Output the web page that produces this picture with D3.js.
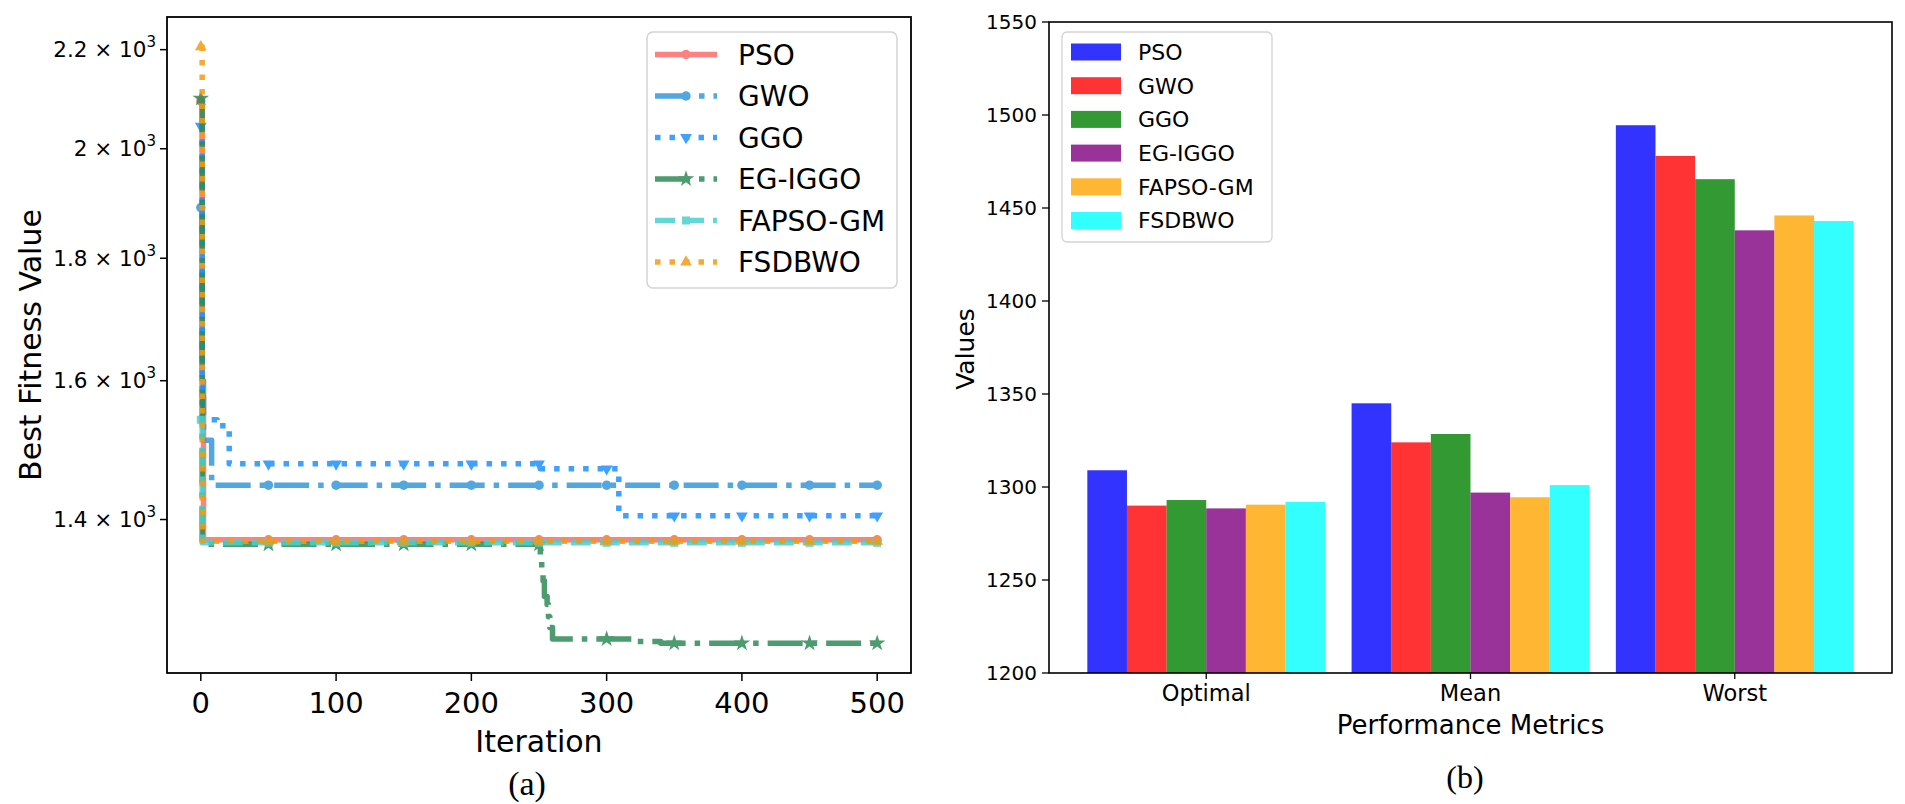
<!DOCTYPE html>
<html>
<head>
<meta charset="utf-8">
<script src="https://cdn.jsdelivr.net/npm/d3@7"></script>
<style>
  html, body { margin: 0; padding: 0; background: #fff; }
  svg { display: block; font-family: "DejaVu Sans", sans-serif; }
</style>
</head>
<body>
<svg width="1905" height="804"></svg>
<script>
// ---- (a) convergence: iteration where the best value changes, and the new value
const algorithms = ["PSO", "GWO", "GGO", "EG-IGGO", "FAPSO-GM", "FSDBWO"];
const maxIter = 500;
const psoIter = [0, 1, 2];
const psoBest = [2094, 1575, 1373];
const gwoIter = [0, 1, 2, 8];
const gwoBest = [1890, 1600, 1511, 1447];
const ggoIter = [0, 1, 12, 21, 251, 309];
const ggoBest = [2044, 1541, 1532, 1477, 1470, 1405];
const egIter = [0, 1, 3, 251, 252, 253, 254, 256, 257, 258, 260, 320, 340];
const egBest = [2099, 1372, 1367, 1345, 1335, 1320, 1300, 1290, 1275, 1262, 1248, 1245, 1243];
const fapsoIter = [0, 1];
const fapsoBest = [1541, 1369];
const fsdIter = [0, 1];
const fsdBest = [2206, 1371];
const iterTicks = [0, 100, 200, 300, 400, 500];
const fitnessTicks = [1400, 1600, 1800, 2000, 2200];
const fitnessTickLabels = ["1.4", "1.6", "1.8", "2", "2.2"];

// ---- (b) performance metrics
const metrics = ["Optimal", "Mean", "Worst"];
const psoMetrics = [1309, 1345, 1494.5];
const gwoMetrics = [1290, 1324, 1478];
const ggoMetrics = [1293, 1328.5, 1465.5];
const egMetrics = [1288.5, 1297, 1438];
const fapsoMetrics = [1290.5, 1294.5, 1446];
const fsdMetrics = [1292, 1301, 1443];
const valueTicks = [1200, 1250, 1300, 1350, 1400, 1450, 1500, 1550];

const svg = d3.select("svg");

// =================== left panel ===================
const curves = [
  { iters: psoIter, vals: psoBest, color: "#ff6b6b", dash: null, marker: "circle" },
  { iters: gwoIter, vals: gwoBest, color: "#3498db", dash: "35,9,5.5,9", marker: "circle" },
  { iters: ggoIter, vals: ggoBest, color: "#1e90ff", dash: "5.5,9", marker: "tri-down" },
  { iters: egIter, vals: egBest, color: "#2e8b57", dash: "35,9,5.5,9", marker: "star" },
  { iters: fapsoIter, vals: fapsoBest, color: "#48d1cc", dash: "20,9", marker: "square" },
  { iters: fsdIter, vals: fsdBest, color: "#f39c12", dash: "5.5,9", marker: "tri-up" },
];

const L = { left: 167, right: 911, top: 17, bottom: 673 };

// matplotlib style 5% margins in log space
const allVals = d3.merge(curves.map((c) => c.vals));
const [vMin, vMax] = d3.extent(allVals);
const pad = Math.pow(vMax / vMin, 0.05);

const x1 = d3.scaleLinear().domain([-25, 525]).range([L.left, L.right]);
const y1 = d3.scaleLog().domain([vMin / pad, vMax * pad]).range([L.bottom, L.top]);

function valueAt(c, t) {
  const i = d3.bisectRight(c.iters, t) - 1;
  return c.vals[i];
}

function markerPath(type) {
  if (type === "circle") return d3.symbol(d3.symbolCircle, 70)();
  if (type === "square") return d3.symbol(d3.symbolSquare, 64)();
  if (type === "star") return d3.symbol(d3.symbolStar, 85)();
  return d3.symbol(d3.symbolTriangle, 60)();
}

function drawMarker(sel, c, px, py) {
  sel
    .append("path")
    .attr("d", markerPath(c.marker))
    .attr(
      "transform",
      "translate(" + px + "," + py + ")" + (c.marker === "tri-down" ? " rotate(180)" : "")
    )
    .attr("fill", c.color);
}

const line = d3
  .line()
  .x((d) => x1(d[0]))
  .y((d) => y1(d[1]))
  .curve(d3.curveStepAfter);

const gA = svg.append("g");

curves.forEach(function (c) {
  const pts = c.iters.map((it, i) => [it, c.vals[i]]);
  pts.push([maxIter, c.vals[c.vals.length - 1]]);
  const g = gA.append("g").attr("opacity", 0.85);
  g.append("path")
    .attr("d", line(pts))
    .attr("fill", "none")
    .attr("stroke", c.color)
    .attr("stroke-width", 5.5)
    .attr("stroke-linejoin", "round")
    .attr("stroke-linecap", "butt")
    .attr("stroke-dasharray", c.dash);
  d3.range(0, maxIter + 1, 50).forEach(function (t) {
    drawMarker(g, c, x1(t), y1(valueAt(c, t)));
  });
});

// frame
gA.append("rect")
  .attr("x", L.left)
  .attr("y", L.top)
  .attr("width", L.right - L.left)
  .attr("height", L.bottom - L.top)
  .attr("fill", "none")
  .attr("stroke", "#000")
  .attr("stroke-width", 1.8);

// x ticks
iterTicks.forEach(function (t) {
  gA.append("line")
    .attr("x1", x1(t)).attr("x2", x1(t))
    .attr("y1", L.bottom).attr("y2", L.bottom + 8)
    .attr("stroke", "#000").attr("stroke-width", 1.5);
  gA.append("text")
    .attr("x", x1(t))
    .attr("y", 713)
    .attr("text-anchor", "middle")
    .attr("font-size", 29)
    .text(t);
});

// y ticks (log)
fitnessTicks.forEach(function (v, i) {
  const yy = y1(v);
  gA.append("line")
    .attr("x1", L.left - 7).attr("x2", L.left)
    .attr("y1", yy).attr("y2", yy)
    .attr("stroke", "#000").attr("stroke-width", 1.5);
  const t = gA.append("text")
    .attr("x", 156)
    .attr("y", yy + 7.5)
    .attr("text-anchor", "end")
    .attr("font-size", 21.5);
  t.append("tspan").text(fitnessTickLabels[i] + " \u00d7 10");
  t.append("tspan").attr("font-size", 15).attr("dy", -10).text("3");
});

gA.append("text")
  .attr("transform", "translate(41,345) rotate(-90)")
  .attr("text-anchor", "middle")
  .attr("font-size", 30)
  .text("Best Fitness Value");

gA.append("text")
  .attr("x", 539)
  .attr("y", 752)
  .attr("text-anchor", "middle")
  .attr("font-size", 30)
  .text("Iteration");

gA.append("text")
  .attr("x", 527)
  .attr("y", 795)
  .attr("text-anchor", "middle")
  .attr("font-family", "Liberation Serif, serif")
  .attr("font-size", 34)
  .text("(a)");

// legend
const legA = gA.append("g");
legA.append("rect")
  .attr("x", 647).attr("y", 32)
  .attr("width", 250).attr("height", 256)
  .attr("rx", 6)
  .attr("fill", "#fff").attr("fill-opacity", 0.8)
  .attr("stroke", "#d3d3d3").attr("stroke-width", 1.5);
curves.forEach(function (c, i) {
  const ry = 54.5 + i * 41.5;
  const g = legA.append("g").attr("opacity", 0.85);
  g.append("line")
    .attr("x1", 655).attr("x2", 717)
    .attr("y1", ry).attr("y2", ry)
    .attr("stroke", c.color)
    .attr("stroke-width", 5.5)
    .attr("stroke-dasharray", c.dash);
  drawMarker(g, c, 686, ry);
  legA.append("text")
    .attr("x", 738)
    .attr("y", ry)
    .attr("dy", "0.36em")
    .attr("font-size", 28)
    .text(algorithms[i]);
});

// =================== right panel ===================
const R = { left: 1049, right: 1892, top: 22, bottom: 673 };
const barSeries = [psoMetrics, gwoMetrics, ggoMetrics, egMetrics, fapsoMetrics, fsdMetrics];
const barColors = ["blue", "red", "green", "purple", "orange", "cyan"];

const x0 = d3
  .scaleBand()
  .domain(metrics)
  .range([R.left, R.right])
  .paddingInner(0.1)
  .paddingOuter(0.145);
const xIn = d3.scaleBand().domain(algorithms).range([0, x0.bandwidth()]);
const y2 = d3.scaleLinear().domain([1200, 1550]).range([R.bottom, R.top]);

const gB = svg.append("g");

barSeries.forEach(function (vals, j) {
  gB.selectAll(null)
    .data(vals)
    .enter()
    .append("rect")
    .attr("x", (d, i) => x0(metrics[i]) + xIn(algorithms[j]))
    .attr("y", (d) => y2(d))
    .attr("width", xIn.bandwidth())
    .attr("height", (d) => y2(1200) - y2(d))
    .attr("fill", barColors[j])
    .attr("fill-opacity", 0.8);
});

gB.append("rect")
  .attr("x", R.left)
  .attr("y", R.top)
  .attr("width", R.right - R.left)
  .attr("height", R.bottom - R.top)
  .attr("fill", "none")
  .attr("stroke", "#000")
  .attr("stroke-width", 1.6);

valueTicks.forEach(function (v) {
  gB.append("line")
    .attr("x1", R.left - 7).attr("x2", R.left)
    .attr("y1", y2(v)).attr("y2", y2(v))
    .attr("stroke", "#000").attr("stroke-width", 1.3);
  gB.append("text")
    .attr("x", 1037)
    .attr("y", y2(v))
    .attr("dy", "0.36em")
    .attr("text-anchor", "end")
    .attr("font-size", 20)
    .text(v);
});

metrics.forEach(function (m) {
  const cx = x0(m) + x0.bandwidth() / 2;
  gB.append("line")
    .attr("x1", cx).attr("x2", cx)
    .attr("y1", R.bottom).attr("y2", R.bottom + 6)
    .attr("stroke", "#000").attr("stroke-width", 1.3);
  gB.append("text")
    .attr("x", cx)
    .attr("y", 701)
    .attr("text-anchor", "middle")
    .attr("font-size", 22.5)
    .text(m);
});

gB.append("text")
  .attr("x", (R.left + R.right) / 2)
  .attr("y", 734)
  .attr("text-anchor", "middle")
  .attr("font-size", 26)
  .text("Performance Metrics");

gB.append("text")
  .attr("transform", "translate(974,349) rotate(-90)")
  .attr("text-anchor", "middle")
  .attr("font-size", 25)
  .text("Values");

gB.append("text")
  .attr("x", 1465)
  .attr("y", 788)
  .attr("text-anchor", "middle")
  .attr("font-family", "Liberation Serif, serif")
  .attr("font-size", 32)
  .text("(b)");

const legB = gB.append("g");
legB.append("rect")
  .attr("x", 1062).attr("y", 32)
  .attr("width", 210).attr("height", 210)
  .attr("rx", 5)
  .attr("fill", "#fff").attr("fill-opacity", 0.8)
  .attr("stroke", "#d3d3d3").attr("stroke-width", 1.3);
algorithms.forEach(function (a, j) {
  const ry = 52 + j * 33.7;
  legB.append("rect")
    .attr("x", 1071).attr("y", ry - 8.5)
    .attr("width", 50).attr("height", 17)
    .attr("fill", barColors[j])
    .attr("fill-opacity", 0.8);
  legB.append("text")
    .attr("x", 1138)
    .attr("y", ry)
    .attr("dy", "0.36em")
    .attr("font-size", 22)
    .text(a);
});
</script>
</body>
</html>
